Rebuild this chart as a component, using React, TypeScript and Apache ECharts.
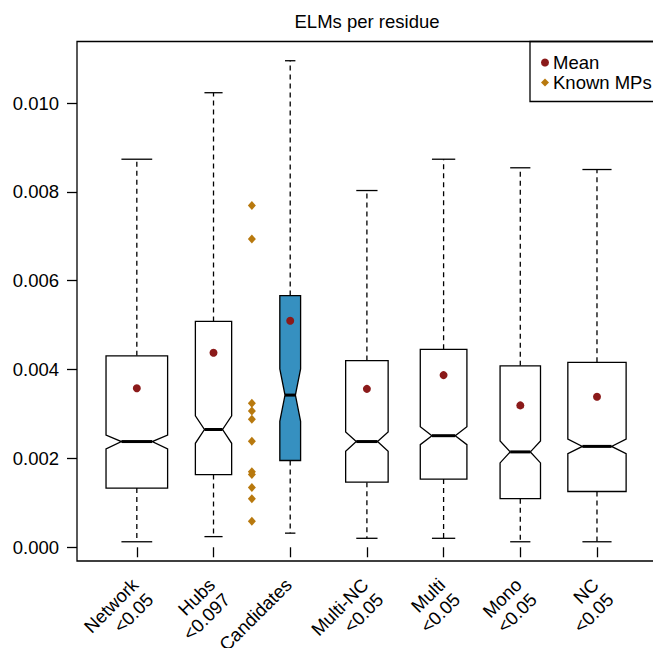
import React, { useEffect, useRef } from "react";
import * as echarts from "echarts";

const categories = [
  "Network\n<0.05",
  "Hubs\n<0.097",
  "Candidates",
  "Multi-NC\n<0.05",
  "Multi\n<0.05",
  "Mono\n<0.05",
  "NC\n<0.05",
];
const positions = [1, 2, 3, 4, 5, 6, 7];
const whiskerLow = [0.000124, 0.00024, 0.000318, 0.000202, 0.000202, 0.000124, 0.000124];
const q1 = [0.001333, 0.001636, 0.001953, 0.001465, 0.001535, 0.001093, 0.001256];
const notchLow = [0.002217, 0.002341, 0.002837, 0.002163, 0.00231, 0.001899, 0.002109];
const median = [0.00238, 0.002651, 0.003426, 0.00238, 0.002512, 0.002147, 0.002271];
const notchHigh = [0.002527, 0.002961, 0.004016, 0.002597, 0.002713, 0.002395, 0.002434];
const q3 = [0.00431, 0.005085, 0.005667, 0.004202, 0.004457, 0.004085, 0.004163];
const whiskerHigh = [0.008736, 0.010233, 0.010953, 0.008031, 0.008736, 0.008543, 0.008504];
const means = [0.003581, 0.00438, 0.005101, 0.003566, 0.003876, 0.003194, 0.003388];
const boxWidths = [0.803, 0.473, 0.271, 0.554, 0.608, 0.527, 0.76];
const boxFills = ["#ffffff", "#ffffff", "#3690C0", "#ffffff", "#ffffff", "#ffffff", "#ffffff"];

const knownMPsPosition = 2.5;
const knownMPs = [0.007694, 0.006938, 0.003245, 0.003065, 0.002884, 0.002389, 0.0017, 0.00164, 0.001344, 0.00109, 0.000588];

const yTicks = [0, 0.002, 0.004, 0.006, 0.008, 0.01];
const yMin = -0.000309;
const yMax = 0.011386;
const xMin = 0.22;
const xMax = 7.78;

const FONT = "'Liberation Sans', Arial, Helvetica, sans-serif";
const FS = 18.5;

export default function App() {
  const ref = useRef<HTMLDivElement>(null);

  useEffect(() => {
    if (!ref.current) return;
    const chart = echarts.init(ref.current, null, { renderer: "svg" });

    const boxData = positions.map((p, i) => [
      p,
      whiskerLow[i],
      q1[i],
      notchLow[i],
      median[i],
      notchHigh[i],
      q3[i],
      whiskerHigh[i],
    ]);

    const renderItem = (params: any, api: any) => {
      const i = params.dataIndex;
      const x = api.value(0);
      const Y = (d: number) => api.coord([x, api.value(d)])[1];
      const cx = api.coord([x, 0])[0];
      const half = api.size([boxWidths[i], 0])[0] / 2;
      const yLo = Y(1), yQ1 = Y(2), yNl = Y(3), yMed = Y(4), yNh = Y(5), yQ3 = Y(6), yHi = Y(7);
      const lw = 1.3;
      const stroke = "#000";
      return {
        type: "group",
        children: [
          {
            type: "line",
            shape: { x1: cx, y1: yQ3, x2: cx, y2: yHi },
            style: { stroke, lineWidth: lw, lineDash: [5, 4] },
          },
          {
            type: "line",
            shape: { x1: cx, y1: yQ1, x2: cx, y2: yLo },
            style: { stroke, lineWidth: lw, lineDash: [5, 4] },
          },
          {
            type: "line",
            shape: { x1: cx - half / 2, y1: yHi, x2: cx + half / 2, y2: yHi },
            style: { stroke, lineWidth: lw },
          },
          {
            type: "line",
            shape: { x1: cx - half / 2, y1: yLo, x2: cx + half / 2, y2: yLo },
            style: { stroke, lineWidth: lw },
          },
          {
            type: "polygon",
            shape: {
              points: [
                [cx - half, yQ1],
                [cx - half, yNl],
                [cx - half / 2, yMed],
                [cx - half, yNh],
                [cx - half, yQ3],
                [cx + half, yQ3],
                [cx + half, yNh],
                [cx + half / 2, yMed],
                [cx + half, yNl],
                [cx + half, yQ1],
              ],
            },
            style: { fill: boxFills[i], stroke, lineWidth: lw },
          },
          {
            type: "line",
            shape: { x1: cx - half / 2, y1: yMed, x2: cx + half / 2, y2: yMed },
            style: { stroke, lineWidth: 3 },
          },
        ],
      };
    };

    chart.setOption({
      animation: false,
      textStyle: { fontFamily: FONT },
      title: {
        text: "ELMs per residue",
        left: 367,
        textAlign: "center",
        top: 12,
        padding: 0,
        textStyle: { fontSize: FS, fontWeight: "normal", color: "#000", fontFamily: FONT },
      },
      legend: {
        orient: "vertical",
        left: 541,
        top: 53,
        padding: 0,
        itemWidth: 8,
        itemHeight: 8,
        itemGap: 1,
        data: ["Mean", "Known MPs"],
        textStyle: { fontSize: FS, color: "#000", fontFamily: FONT, lineHeight: 18, padding: [0, 0, 0, -1] },
      },
      graphic: [
        {
          type: "rect",
          shape: { x: 530, y: 41.5, width: 140, height: 60 },
          style: { fill: "none", stroke: "#000", lineWidth: 1.3 },
          z: 10,
        },
      ],
      grid: {
        left: 77,
        top: 41.5,
        right: -3.8,
        bottom: 87,
        containLabel: false,
        outerBoundsMode: "none",
        show: true,
        borderColor: "#000",
        borderWidth: 1.3,
        backgroundColor: "transparent",
      },
      xAxis: {
        type: "value",
        min: xMin,
        max: xMax,
        axisLine: { show: false },
        splitLine: { show: false },
        axisTick: {
          show: true,
          length: 10,
          customValues: positions,
          lineStyle: { color: "#000", width: 1.3 },
        },
        axisLabel: {
          customValues: positions,
          rotate: 45,
          margin: 4,
          verticalAlign: "top",
          align: "right",
          padding: [0, 13, 0, 0],
          fontSize: FS,
          lineHeight: 21,
          color: "#000",
          fontFamily: FONT,
          formatter: (v: number) => categories[Math.round(v) - 1] ?? "",
        },
      },
      yAxis: {
        type: "value",
        min: yMin,
        max: yMax,
        axisLine: { show: false },
        splitLine: { show: false },
        axisTick: {
          show: true,
          length: 10,
          customValues: yTicks,
          lineStyle: { color: "#000", width: 1.3 },
        },
        axisLabel: {
          customValues: yTicks,
          margin: 18,
          fontSize: FS,
          color: "#000",
          fontFamily: FONT,
          formatter: (v: number) => v.toFixed(3),
        },
      },
      series: [
        {
          type: "custom",
          name: "boxes",
          renderItem,
          data: boxData,
          encode: { x: 0, y: [1, 2, 3, 4, 5, 6, 7] },
          z: 2,
        },
        {
          type: "scatter",
          name: "Mean",
          symbol: "circle",
          symbolSize: 8,
          itemStyle: { color: "#8B1A1A", opacity: 1 },
          data: positions.map((p, i) => [p, means[i]]),
          z: 5,
        },
        {
          type: "scatter",
          name: "Known MPs",
          symbol: "diamond",
          symbolSize: [8, 9],
          itemStyle: { color: "#B8790E", opacity: 1 },
          data: knownMPs.map((v) => [knownMPsPosition, v]),
          z: 5,
        },
      ],
    });

    return () => chart.dispose();
  }, []);

  return (
    <div
      ref={ref}
      style={{ position: "fixed", left: 0, top: 0, width: 653, height: 648, background: "#fff" }}
    />
  );
}
